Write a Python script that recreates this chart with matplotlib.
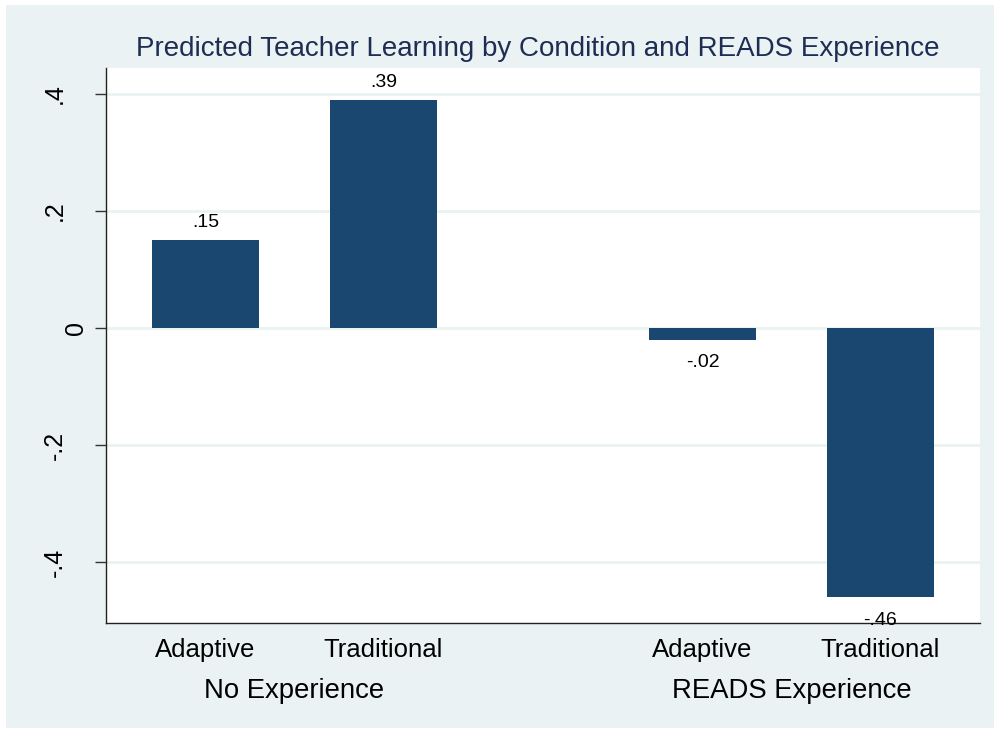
import matplotlib
matplotlib.use("Agg")
import matplotlib.pyplot as plt
import matplotlib.transforms as mtransforms
from matplotlib.patches import Rectangle
import numpy as np

# ---- data ----
groups = ["No Experience", "READS Experience"]
conditions = ["Adaptive", "Traditional"]
values = [[0.15, 0.39], [-0.02, -0.46]]
value_labels = [[".15", ".39"], ["-.02", "-.46"]]
yticks = [-0.4, -0.2, 0.0, 0.2, 0.4]
ytick_labels = ["-.4", "-.2", "0", ".2", ".4"]
title = "Predicted Teacher Learning by Condition and READS Experience"

plt.rcParams['font.family'] = ['Liberation Sans', 'DejaVu Sans']

W, H = 994, 729
fig = plt.figure(figsize=(W / 100, H / 100), dpi=100)
fig.patch.set_facecolor("white")
bg = "#EAF2F3"
fig.add_artist(Rectangle((6 / W, 1 - 728 / H), 1 - 6 / W, (728 - 5) / H,
                         transform=fig.transFigure, facecolor=bg, edgecolor="none", zorder=0))

ax = fig.add_axes([106 / W, 1 - 623 / H, (980 - 106) / W, (623 - 68) / H])
ax.set_facecolor("white")

bar_color = "#1A476F"
group_gap = 1.792   # spacing between the groups (in bar-slot units)
width = 0.6
positions = []
for g, grp in enumerate(groups):
    base = g * (len(conditions) - 1 + group_gap)
    pos = [base + i for i in range(len(conditions))]
    positions.append(pos)
    ax.bar(pos, values[g], width=width, color=bar_color, zorder=3)
    for x, v, lab in zip(pos, values[g], value_labels[g]):
        if v >= 0:
            ax.annotate(lab, (x, v), xytext=(0, 6.5), textcoords="offset points",
                        ha="center", va="bottom", fontsize=14, color="black", zorder=4)
        else:
            ax.annotate(lab, (x, v), xytext=(0, -10.5), textcoords="offset points",
                        ha="center", va="top", fontsize=14, color="black", zorder=4)

flat_pos = [p for pos in positions for p in pos]
flat_lab = [c for _ in groups for c in conditions]
ax.set_xticks(flat_pos)
ax.set_xticklabels(flat_lab, fontsize=18.5)
ax.tick_params(axis="x", length=0, pad=10.5)

ax.set_xlim(-0.559, 4.351)
ax.set_ylim(-0.504, 0.444)
ax.set_yticks(yticks)
ax.set_yticklabels(ytick_labels, fontsize=18, rotation=90, va="center")
ax.tick_params(axis="y", length=8, width=1, color="#333333", pad=20)

# stata places the "0" label closer to the axis
for t in ax.get_yticklabels():
    if t.get_text() == "0":
        t.set_transform(t.get_transform() + mtransforms.ScaledTranslation(21 / 100, 0, fig.dpi_scale_trans))

ax.grid(axis="y", color=bg, linewidth=2, zorder=0)
ax.set_axisbelow(True)
for s in ["top", "right"]:
    ax.spines[s].set_visible(False)
for s in ["left", "bottom"]:
    ax.spines[s].set_color("#222222")
    ax.spines[s].set_linewidth(1)

# group labels
trans = mtransforms.blended_transform_factory(ax.transData, fig.transFigure)
for g, grp in enumerate(groups):
    ax.text(np.mean(positions[g]), 1 - 691 / H, grp, transform=trans,
            ha="center", va="center", fontsize=19.8, color="black")

fig.text(537.5 / W, 1 - 49 / H, title, ha="center", va="center",
         fontsize=20, color="#1E2D53")

fig.savefig("out.png", dpi=100, facecolor=fig.get_facecolor())
